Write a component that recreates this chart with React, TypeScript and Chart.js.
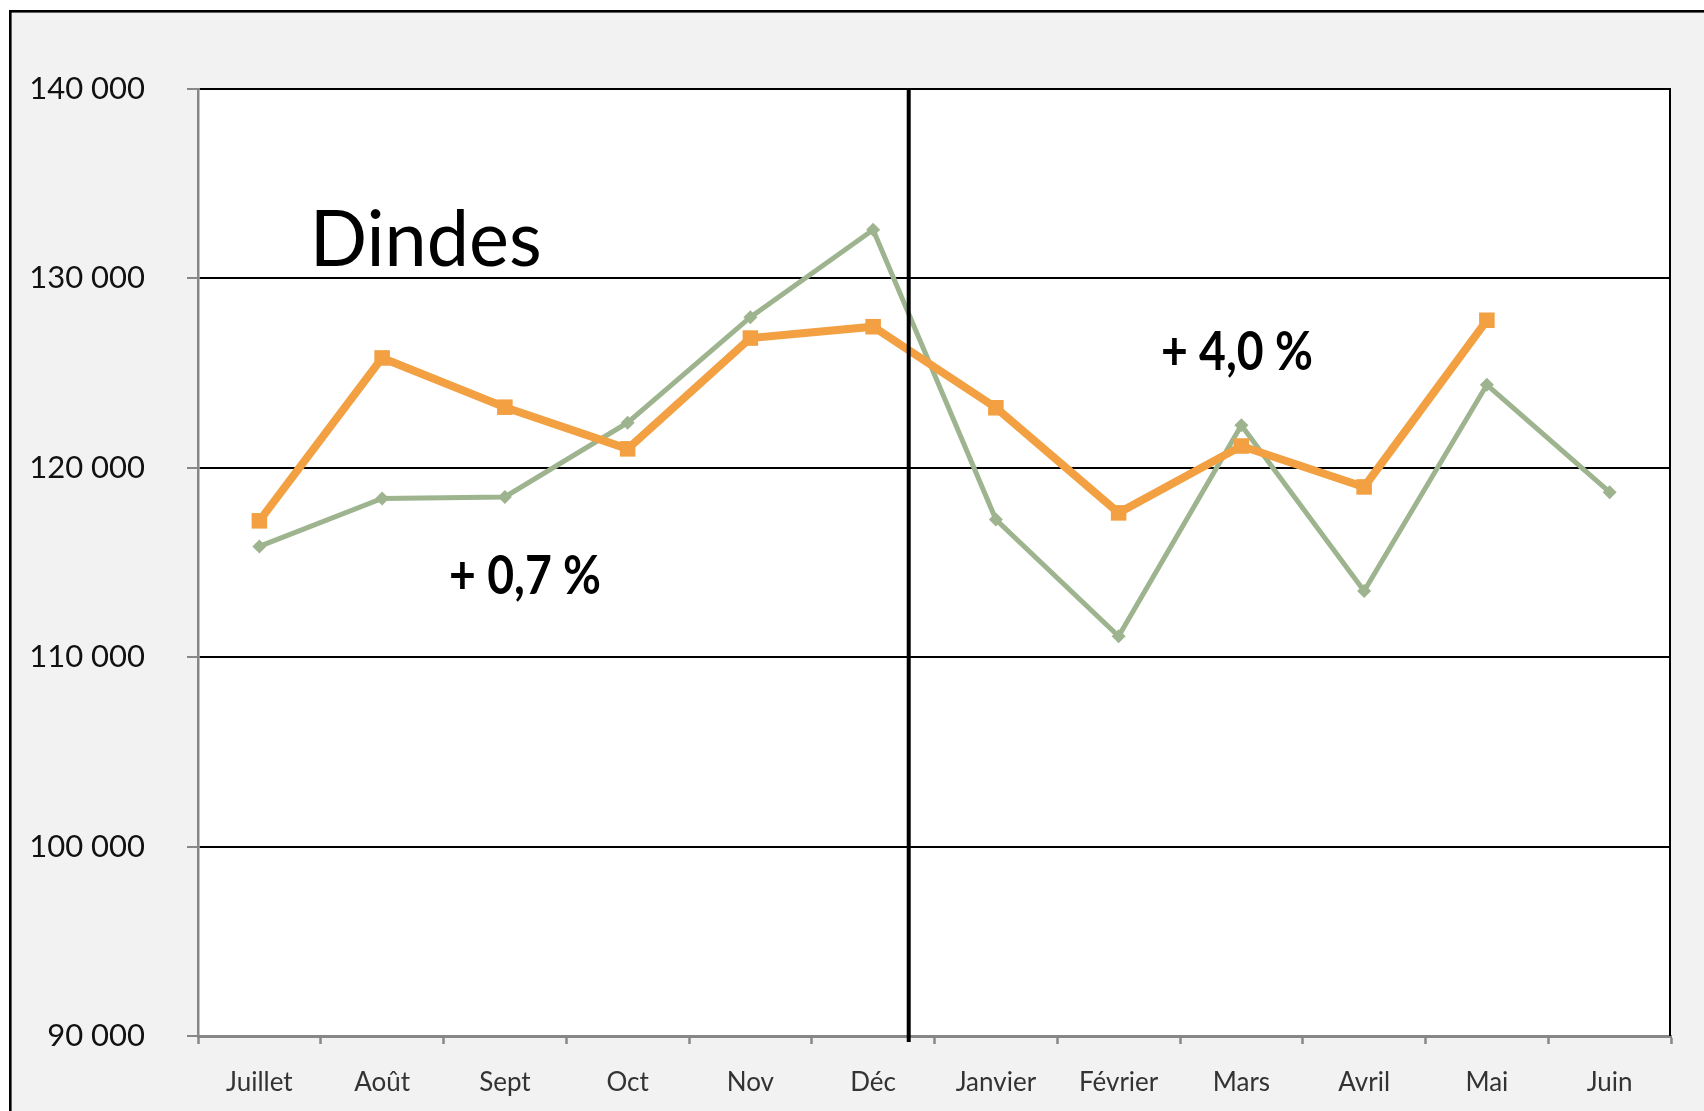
import React, { useEffect, useRef } from "react";
import { Chart, registerables } from "chart.js";

Chart.register(...registerables);

const months = ["Juillet", "Août", "Sept", "Oct", "Nov", "Déc", "Janvier", "Février", "Mars", "Avril", "Mai", "Juin"];
const seriesCurrent = [117200, 125800, 123200, 121000, 126850, 127450, 123170, 117620, 121150, 118990, 127790, null];
const seriesPrevious = [115850, 118380, 118460, 122380, 127950, 132570, 117270, 111100, 122250, 113490, 124380, 118710];
const yMin = 90000;
const yMax = 140000;
const yStep = 10000;
const separatorAt = 5.29; // category position of the vertical separator (between Déc and Janvier)

const annotations = [
  { text: "Dindes", x: 0.41, y: 130650, font: "400 78px Lato", maxWidth: 232 },
  { text: "+ 0,7 %", x: 1.545, y: 113340, font: "700 53px Lato", maxWidth: 152 },
  { text: "+ 4,0 %", x: 7.345, y: 125160, font: "700 53px Lato", maxWidth: 152 },
];

const ORANGE = "#F2A041";
const GREEN = "#9DB48F";
const AXIS_GRAY = "#878787";

const frame = {
  id: "frame",
  beforeDraw(chart: any) {
    const { ctx, width, height, chartArea } = chart;
    ctx.save();
    ctx.fillStyle = "#ffffff";
    ctx.fillRect(0, 0, width, height);
    ctx.fillStyle = "#f2f2f2";
    ctx.fillRect(11, 12, width, height);
    ctx.fillStyle = "#000000";
    ctx.fillRect(9, 10, 2.6, height);
    ctx.fillRect(9, 10, width, 2.6);
    ctx.fillStyle = "#ffffff";
    ctx.fillRect(chartArea.left, chartArea.top, chartArea.right - chartArea.left, chartArea.bottom - chartArea.top);
    ctx.restore();
  },
  afterDatasetsDraw(chart: any) {
    const { ctx, chartArea, scales } = chart;
    ctx.save();
    // right border of plot
    ctx.strokeStyle = "#000";
    ctx.lineWidth = 2;
    ctx.beginPath();
    ctx.moveTo(chartArea.right - 1, chartArea.top);
    ctx.lineTo(chartArea.right - 1, chartArea.bottom);
    ctx.stroke();
    // separator
    const sx = scales.x.getPixelForValue(separatorAt);
    ctx.lineWidth = 4;
    ctx.beginPath();
    ctx.moveTo(sx, chartArea.top);
    ctx.lineTo(sx, chartArea.bottom + 6);
    ctx.stroke();
    // texts
    ctx.fillStyle = "#000";
    ctx.textAlign = "left";
    ctx.textBaseline = "alphabetic";
    for (const a of annotations) {
      ctx.font = a.font;
      ctx.fillText(a.text, scales.x.getPixelForValue(a.x), scales.y.getPixelForValue(a.y), a.maxWidth);
    }
    ctx.restore();
  },
};

export default function App() {
  const ref = useRef<HTMLCanvasElement>(null);
  useEffect(() => {
    const canvas = ref.current!;
    const chart = new Chart(canvas, {
      type: "line",
      data: {
        labels: months,
        datasets: [
          {
            label: "Current",
            data: seriesCurrent,
            borderColor: ORANGE,
            backgroundColor: ORANGE,
            borderWidth: 8,
            pointStyle: "rect",
            pointRadius: 11,
            pointBorderWidth: 0,
            tension: 0,
            spanGaps: false,
          },
          {
            label: "Previous",
            data: seriesPrevious,
            borderColor: GREEN,
            backgroundColor: GREEN,
            borderWidth: 5,
            pointStyle: "rectRot",
            pointRadius: 7,
            pointBorderWidth: 0,
            tension: 0,
          },
        ],
      },
      plugins: [frame],
      options: {
        responsive: false,
        animation: false,
        devicePixelRatio: 1,
        layout: { padding: { left: 0, top: 89, right: 33, bottom: 0 } },
        plugins: { legend: { display: false }, tooltip: { enabled: false }, title: { display: false } },
        scales: {
          x: {
            type: "category",
            offset: true,
            afterFit: (s: any) => { s.height = 75; },
            grid: {
              offset: true,
              drawOnChartArea: false,
              drawTicks: true,
              tickLength: 8,
              tickColor: AXIS_GRAY,
              tickWidth: 2.5,
              color: AXIS_GRAY,
            },
            border: { display: true, color: AXIS_GRAY, width: 3 },
            ticks: {
              font: { family: "Lato", size: 26 },
              color: "#333",
              padding: 23,
              maxRotation: 0,
              autoSkip: false,
            },
          },
          y: {
            min: yMin,
            max: yMax,
            afterFit: (s: any) => { s.width = 198; },
            ticks: {
              stepSize: yStep,
              font: { family: "Lato", size: 31 },
              color: "#111",
              padding: 42,
              callback: (v: any) => String(v).replace(/\B(?=(\d{3})+(?!\d))/g, " "),
            },
            grid: {
              color: (c: any) => (c.tick && c.tick.value === yMin ? "rgba(0,0,0,0)" : "#000"),
              lineWidth: 2,
              tickLength: 11,
              tickColor: AXIS_GRAY,
              tickWidth: 2,
            },
            border: { display: true, color: AXIS_GRAY, width: 2.5 },
          },
        },
      },
    } as any);
    return () => chart.destroy();
  }, []);
  return (
    <div style={{ position: "fixed", left: 0, top: 0, width: 1704, height: 1111, background: "#fff" }}>
      <canvas ref={ref} width={1704} height={1111} style={{ width: 1704, height: 1111, display: "block" }} />
    </div>
  );
}
